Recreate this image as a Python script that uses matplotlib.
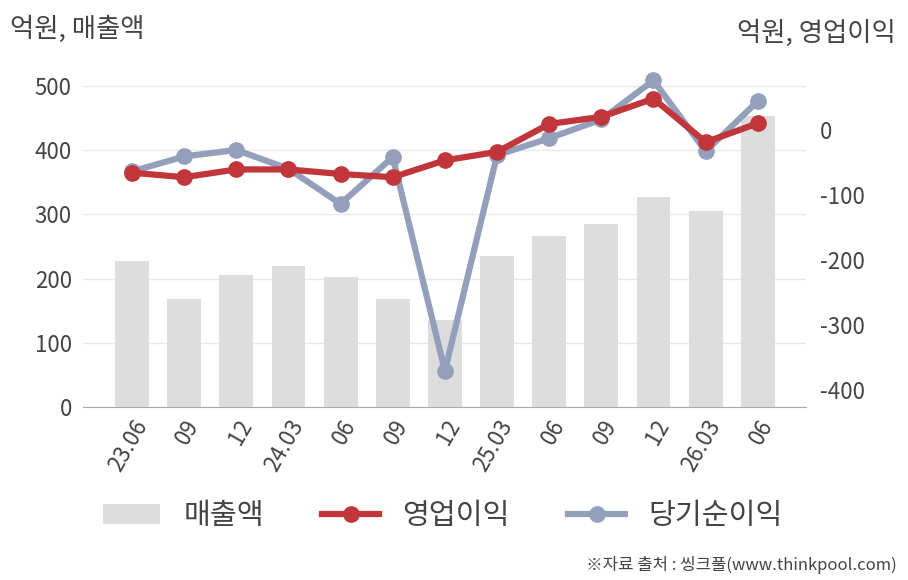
import matplotlib
matplotlib.use("Agg")
import matplotlib.pyplot as plt
from matplotlib.patches import Patch
from matplotlib.lines import Line2D

plt.rcParams['font.family'] = ['Noto Sans CJK KR', 'DejaVu Sans']
plt.rcParams['axes.unicode_minus'] = False

# data (억원)
quarters = ["23.06", "09", "12", "24.03", "06", "09", "12",
            "25.03", "06", "09", "12", "26.03", "06"]
sales = [227, 168, 205, 219, 202, 168, 135, 235, 267, 285, 327, 305, 453]
op_profit = [-65, -72, -60, -60, -67, -72, -46, -33, 10, 21, 49, -18, 11]
net_profit = [-63, -40, -30, -59, -113, -41, -370, -38, -12, 17, 77, -32, 45]

BAR = "#dddddd"
RED = "#c0363a"
BLUE = "#94a0bb"
TXT = "#444444"

fig = plt.figure(figsize=(9.08, 5.80), dpi=100)
ax = fig.add_axes([0.0914, 0.298, 0.796, 0.598])
ax2 = ax.twinx()

x = list(range(len(quarters)))
ax.bar(x, sales, width=0.65, color=BAR, zorder=2)
ax.set_ylim(0, 540)
ax.set_yticks([0, 100, 200, 300, 400, 500])
ax.grid(axis="y", color="#e8e8e8", linewidth=1, zorder=0)
ax.set_axisbelow(True)
ax.set_xlim(-0.94, 12.92)
ax.set_xticks(x)
ax.set_xticklabels(quarters, rotation=60, ha="right", rotation_mode="anchor")

ax2.plot(x, net_profit, color=BLUE, linewidth=4.5, marker="o", markersize=11, zorder=3)
ax2.plot(x, op_profit, color=RED, linewidth=4.5, marker="o", markersize=11, zorder=4)
ax2.set_ylim(-426, 108)
ax2.set_yticks([0, -100, -200, -300, -400])

for a in (ax, ax2):
    for s in ("top", "left", "right", "bottom"):
        a.spines[s].set_visible(False)
    a.tick_params(length=0, labelsize=16, colors=TXT)
ax.spines["bottom"].set_visible(True)
ax.spines["bottom"].set_color("#aaaaaa")
ax.tick_params(axis="y", pad=8)
ax.tick_params(axis="x", pad=6)
ax2.tick_params(axis="y", pad=10)
ax2.set_zorder(ax.get_zorder() + 1)
ax2.patch.set_visible(False)

fig.text(0.011, 0.950, "억원, 매출액", fontsize=19, color=TXT, ha="left", va="center")
fig.text(0.986, 0.943, "억원, 영업이익", fontsize=19, color=TXT, ha="right", va="center")

handles = [
    Patch(facecolor=BAR, edgecolor="none"),
    Line2D([], [], color=RED, linewidth=4.5, marker="o", markersize=11),
    Line2D([], [], color=BLUE, linewidth=4.5, marker="o", markersize=11),
]
fig.legend(handles, ["매출액", "영업이익", "당기순이익"], loc="center",
           bbox_to_anchor=(0.488, 0.11), ncol=3, frameon=False,
           fontsize=21, labelcolor=TXT, handlelength=1.95, handleheight=0.7,
           columnspacing=2.0, handletextpad=0.8)

fig.text(0.988, 0.025, "※자료 출처 : 씽크풀(www.thinkpool.com)", fontsize=12,
         color=TXT, ha="right", va="center")

fig.savefig("out.png", dpi=100)
